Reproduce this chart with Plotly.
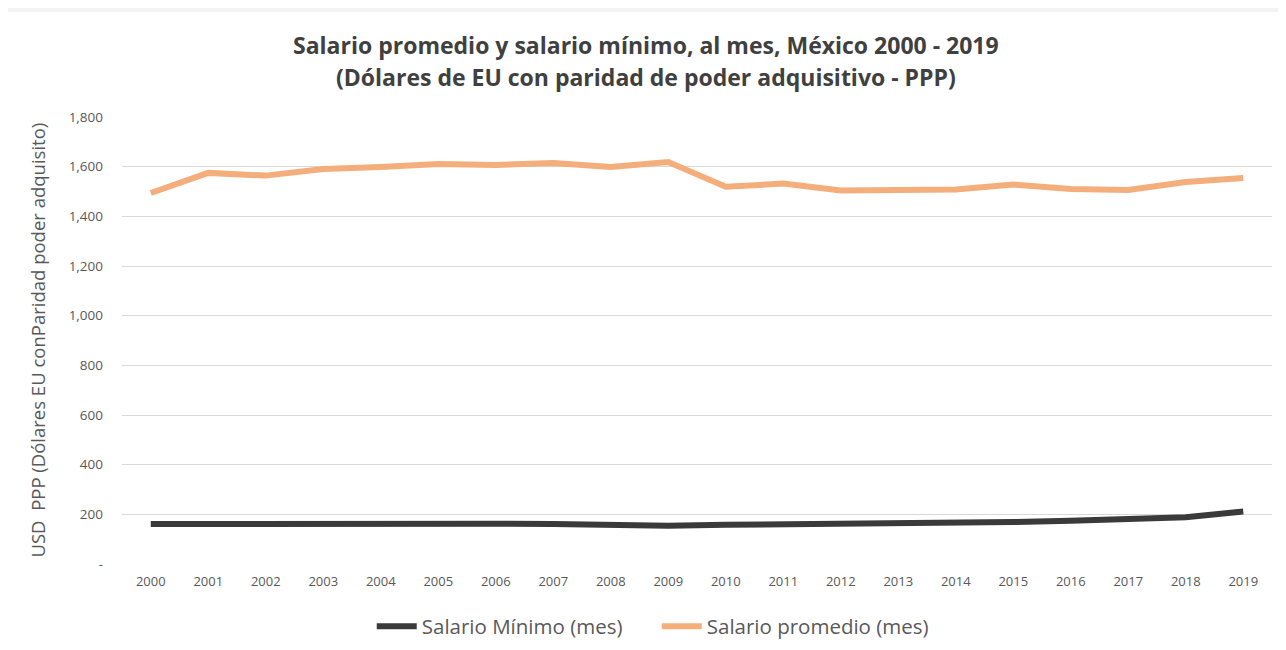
"""Salario promedio y salario mínimo, México 2000-2019."""

import plotly.graph_objects as go

years = [str(y) for y in range(2000, 2020)]
salario_minimo = [161, 162, 162, 162, 162, 162, 162, 161, 156, 154,
                  158, 160, 161, 162, 164, 169, 174, 181, 188, 211]
salario_promedio = [1494, 1575, 1564, 1591, 1599, 1611, 1607, 1615, 1599, 1619,
                    1519, 1532, 1504, 1504, 1508, 1528, 1510, 1506, 1538, 1554]
y_ticks = [0, 200, 400, 600, 800, 1000, 1200, 1400, 1600, 1800]
y_tick_labels = ["-", "200", "400", "600", "800", "1,000", "1,200", "1,400", "1,600", "1,800"]

FONT = "Open Sans, sans-serif"
GREY = "#595959"
TITLE_1 = "<b>Salario promedio y salario mínimo, al mes, México 2000 - 2019</b>"
TITLE_2 = "<b>(Dólares de EU con paridad de poder adquisitivo - PPP)</b>"

fig = go.Figure()
fig.add_trace(go.Scatter(
    x=years, y=salario_minimo, mode="lines", name="Salario Mínimo (mes)",
    line=dict(color="#3a3a3a", width=6),
))
fig.add_trace(go.Scatter(
    x=years, y=salario_promedio, mode="lines", name="Salario promedio (mes)",
    line=dict(color="#f4ae7c", width=6),
))

# the page adds an 8px body margin, so the plot box is placed 8px up/left
fig.update_layout(
    width=1286, height=650,
    paper_bgcolor="white",
    plot_bgcolor="white",
    margin=dict(l=114, r=22, t=109, b=94, autoexpand=False),
    font=dict(family=FONT, size=12, color=GREY),
    xaxis=dict(
        type="category", range=[-0.5, 19.5],
        showgrid=False, showline=False, ticks="",
        ticklabelstandoff=8,
        tickfont=dict(size=13, color=GREY), automargin=False,
    ),
    yaxis=dict(
        range=[0, 1800], tickvals=y_ticks, ticktext=y_tick_labels,
        gridcolor="#d9d9d9", gridwidth=1, zeroline=False,
        ticks="", ticklabelstandoff=18, automargin=False,
        tickfont=dict(size=13.5, color=GREY),
    ),
    legend=dict(
        orientation="h", x=0.465, xanchor="center", y=-0.095, yanchor="top",
        font=dict(size=20.5, color=GREY), itemwidth=40, entrywidth=230,
    ),
    showlegend=True,
    annotations=[
        dict(text=TITLE_1, xref="paper", yref="paper", x=0.4557, y=1.161,
             xanchor="center", yanchor="middle", showarrow=False,
             font=dict(size=23, color="#404040")),
        dict(text=TITLE_2, xref="paper", yref="paper", x=0.4557, y=1.0895,
             xanchor="center", yanchor="middle", showarrow=False,
             font=dict(size=23, color="#404040")),
        dict(text="USD  PPP (Dólares EU conParidad poder adquisito)",
             xref="paper", yref="paper", x=-0.0739, y=0.5, textangle=-90,
             xanchor="center", yanchor="middle",
             showarrow=False, font=dict(size=18.5, color=GREY)),
    ],
    shapes=[
        dict(type="rect", xref="paper", yref="paper", x0=-0.2, x1=1.2,
             y0=1.235, y1=1.3, fillcolor="#f3f3f3", line_width=0, layer="below"),
    ],
)

fig.write_html("out.html")
